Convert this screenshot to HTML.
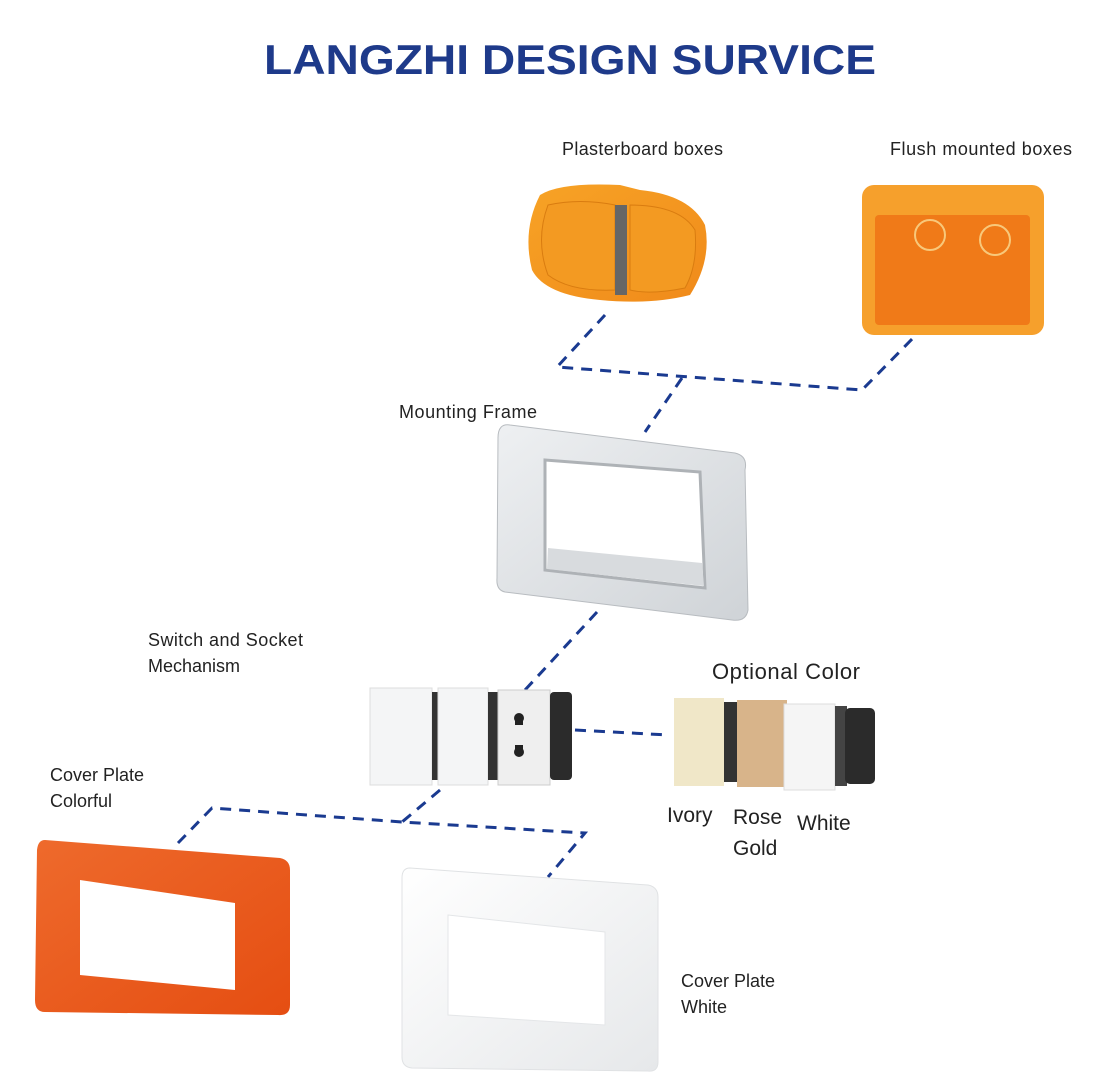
<!DOCTYPE html>
<html><head><meta charset="utf-8"><style>
html,body{margin:0;padding:0;background:#fff;}
svg{display:block;}
text{font-family:"Liberation Sans",sans-serif;fill:#222;}
</style></head><body>
<svg width="1100" height="1081" viewBox="0 0 1100 1081" xmlns="http://www.w3.org/2000/svg">
<defs>
<linearGradient id="og" x1="0" y1="0" x2="1" y2="1"><stop offset="0" stop-color="#f7a326"/><stop offset="1" stop-color="#f08a1a"/></linearGradient>
<linearGradient id="fg" x1="0" y1="0" x2="1" y2="1"><stop offset="0" stop-color="#eef0f2"/><stop offset="1" stop-color="#cfd3d7"/></linearGradient>
<linearGradient id="wp" x1="0" y1="0" x2="1" y2="1"><stop offset="0" stop-color="#ffffff"/><stop offset="1" stop-color="#e6e8ea"/></linearGradient>
<linearGradient id="op" x1="0" y1="0" x2="1" y2="1"><stop offset="0" stop-color="#ee6a2c"/><stop offset="1" stop-color="#e54e12"/></linearGradient>
</defs>
<text x="570" y="74" text-anchor="middle" font-size="42" font-weight="bold" style="fill:#1e3a8a" textLength="612" lengthAdjust="spacingAndGlyphs">LANGZHI DESIGN SURVICE</text>

<g font-size="18">
<text x="562" y="155" textLength="161">Plasterboard boxes</text>
<text x="890" y="155" textLength="182">Flush mounted boxes</text>
<text x="399" y="418" textLength="138">Mounting Frame</text>
<text x="148" y="646" textLength="155">Switch and Socket</text>
<text x="148" y="672">Mechanism</text>
<text x="50" y="781">Cover Plate</text>
<text x="50" y="807">Colorful</text>
<text x="681" y="987">Cover Plate</text>
<text x="681" y="1013">White</text>
<text x="712" y="679" font-size="22" textLength="148">Optional Color</text>
<text x="667" y="822" font-size="21">Ivory</text>
<text x="733" y="824" font-size="21">Rose</text>
<text x="733" y="855" font-size="21">Gold</text>
<text x="797" y="830" font-size="21">White</text>
</g>

<g stroke="#1a3a90" stroke-width="3" fill="none" stroke-dasharray="11 8">
<path d="M605 315 L557 367 L862 390 L918 333"/>
<path d="M682 378 L645 432"/>
<path d="M597 612 L525 690"/>
<path d="M575 730 L668 735"/>
<path d="M440 790 L402 822"/>
<path d="M178 843 L212 808 L402 822 L585 833 L548 877"/>
</g>

<g>
<path d="M540 195 Q560 182 620 185 L640 190 Q690 195 705 225 Q712 260 690 295 Q650 305 600 300 Q545 295 532 270 Q522 230 540 195Z" fill="url(#og)"/>
<path d="M548 205 Q580 198 615 205 L615 290 Q570 292 548 275 Q535 240 548 205Z" fill="#f39a22" stroke="#d97c10"/>
<path d="M630 205 Q680 205 695 230 Q698 265 685 288 Q650 295 630 290Z" fill="#f39a22" stroke="#d97c10"/>
<rect x="615" y="205" width="12" height="90" fill="#666"/>
</g>
<g>
<rect x="862" y="185" width="182" height="150" rx="12" fill="#f6a02c"/>
<rect x="875" y="215" width="155" height="110" rx="4" fill="#f07a18"/>
<circle cx="930" cy="235" r="15" fill="none" stroke="#f8c87a" stroke-width="2"/>
<circle cx="995" cy="240" r="15" fill="none" stroke="#f8c87a" stroke-width="2"/>
</g>
<path d="M510 425 L735 453 Q748 456 745 470 L748 610 Q746 622 732 620 L505 592 Q496 590 497 578 L498 438 Q498 423 510 425Z" fill="url(#fg)" stroke="#b8bcc0"/>
<path d="M545 460 L700 472 L705 588 L545 570Z" fill="#fff" stroke="#aeb2b6" stroke-width="3"/>
<path d="M548 548 L702 563 L704 586 L547 569Z" fill="#d8dbde"/>

<g>
<rect x="370" y="688" width="62" height="97" fill="#f4f5f6" stroke="#ddd"/>
<rect x="432" y="692" width="10" height="88" fill="#333"/>
<rect x="438" y="688" width="50" height="97" fill="#f4f5f6" stroke="#ddd"/>
<rect x="488" y="692" width="10" height="88" fill="#333"/>
<rect x="498" y="690" width="52" height="95" fill="#efefef" stroke="#ccc"/>
<rect x="550" y="692" width="22" height="88" rx="4" fill="#2b2b2b"/>
<circle cx="519" cy="718" r="5" fill="#222"/><rect x="515" y="720" width="8" height="5" fill="#222"/>
<circle cx="519" cy="752" r="5" fill="#222"/><rect x="515" y="745" width="8" height="5" fill="#222"/>
</g>
<g>
<rect x="674" y="698" width="50" height="88" fill="#f0e7c8"/>
<rect x="724" y="702" width="14" height="80" fill="#333"/>
<rect x="737" y="700" width="50" height="87" fill="#d8b48a"/>
<rect x="787" y="704" width="14" height="80" fill="#333"/>
<rect x="784" y="704" width="51" height="86" fill="#f5f5f5" stroke="#ddd"/>
<rect x="835" y="706" width="12" height="80" fill="#444"/>
<rect x="845" y="708" width="30" height="76" rx="5" fill="#2b2b2b"/>
</g>

<path d="M45 840 L280 858 Q290 860 290 870 L290 1005 Q290 1016 278 1015 L45 1012 Q35 1012 35 1000 L37 850 Q38 840 45 840Z" fill="url(#op)"/>
<path d="M80 880 L235 903 L235 990 L80 975Z" fill="#fff"/>
<path d="M410 868 L648 885 Q658 887 658 897 L658 1062 Q658 1072 648 1071 L412 1068 Q402 1067 402 1057 L402 878 Q402 868 410 868Z" fill="url(#wp)" stroke="#e0e2e4"/>
<path d="M448 915 L605 932 L605 1025 L448 1015Z" fill="#fff" stroke="#e4e6e8"/>
</svg>
</body></html>
